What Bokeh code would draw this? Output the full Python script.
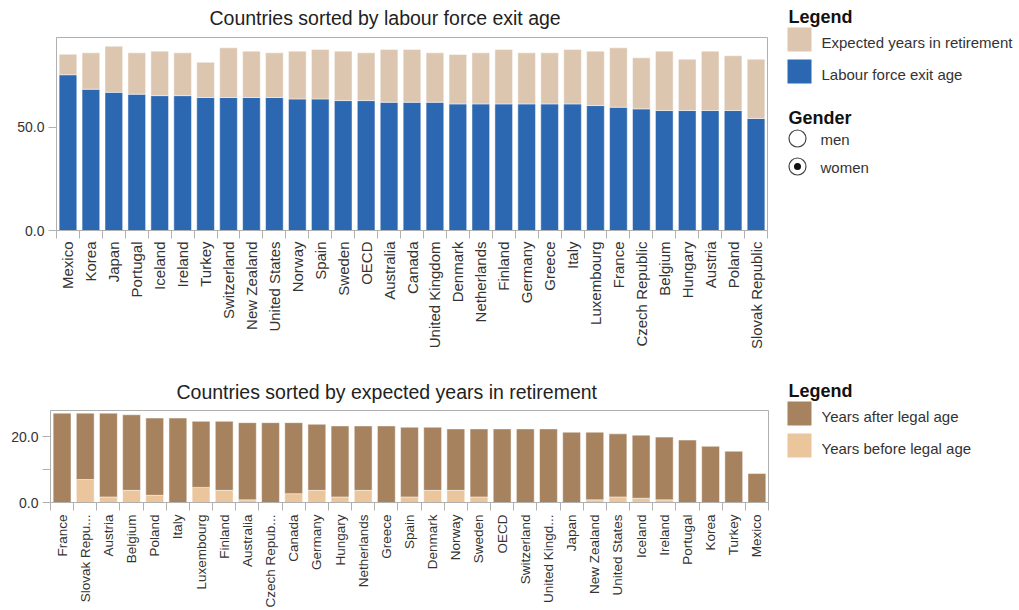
from bokeh.plotting import figure
from bokeh.layouts import column, row
from bokeh.models import FixedTicker, PrintfTickFormatter, Range1d, ColumnDataSource
from bokeh.embed import file_html
from bokeh.resources import INLINE
from bokeh.core.properties import value

FONT = "Liberation Sans"

# ---------------- data ----------------
exit_countries = ["Mexico", "Korea", "Japan", "Portugal", "Iceland", "Ireland", "Turkey",
                  "Switzerland", "New Zealand", "United States", "Norway", "Spain", "Sweden",
                  "OECD", "Australia", "Canada", "United Kingdom", "Denmark", "Netherlands",
                  "Finland", "Germany", "Greece", "Italy", "Luxembourg", "France",
                  "Czech Republic", "Belgium", "Hungary", "Austria", "Poland", "Slovak Republic"]
labour_force_exit_age = [75.3, 68.3, 66.8, 65.9, 65.2, 65.2, 64.3, 64.3, 64.3, 64.3, 63.6,
                         63.6, 62.8, 62.8, 62.0, 62.0, 62.0, 61.2, 61.2, 61.2, 61.2, 61.2,
                         61.2, 60.4, 59.6, 58.8, 58.0, 58.0, 58.0, 58.0, 54.2]
expected_years_in_retirement = [9.9, 17.6, 22.3, 20.0, 21.5, 20.7, 17.0, 24.0, 22.4, 21.6,
                                23.1, 23.9, 23.9, 23.1, 25.5, 25.5, 23.9, 23.9, 24.7, 26.3,
                                24.7, 24.7, 26.3, 26.3, 28.7, 24.7, 28.7, 24.8, 28.7, 26.5,
                                28.6]

ret_countries = ["France", "Slovak Repu...", "Austria", "Belgium", "Poland", "Italy",
                 "Luxembourg", "Finland", "Australia", "Czech Repub...", "Canada", "Germany",
                 "Hungary", "Netherlands", "Greece", "Spain", "Denmark", "Norway", "Sweden",
                 "OECD", "Switzerland", "United Kingd...", "Japan", "New Zealand",
                 "United States", "Iceland", "Ireland", "Portugal", "Korea", "Turkey", "Mexico"]
years_before_legal_age = [0.0, 7.0, 1.7, 3.7, 2.2, 0.0, 4.6, 3.7, 0.8, 0.0, 2.7, 3.7, 1.7,
                          3.7, 0.0, 1.7, 3.7, 3.7, 1.7, 0.0, 0.0, 0.0, 0.0, 0.8, 1.7, 1.3,
                          0.8, 0.0, 0.0, 0.0, 0.0]
years_after_legal_age = [27.2, 20.2, 25.5, 23.0, 23.5, 25.7, 20.1, 21.0, 23.5, 24.3, 21.6,
                         20.1, 21.6, 19.6, 23.3, 21.2, 19.2, 18.7, 20.7, 22.4, 22.4, 22.4,
                         21.4, 20.6, 19.2, 19.2, 19.1, 19.0, 17.1, 15.6, 8.8]

top_title = "Countries sorted by labour force exit age"
bottom_title = "Countries sorted by expected years in retirement"
top_legend_labels = ["Expected years in retirement", "Labour force exit age"]
bottom_legend_labels = ["Years after legal age", "Years before legal age"]
gender_labels = ["men", "women"]
top_y_ticks = [0, 50]
bottom_y_ticks = [0, 10, 20]
bottom_hidden_tick = 10

# ---------------- colours ----------------
BLUE = "#2c67b1"
TAN = "#dcc6b0"
BROWN = "#a7825e"
PEACH = "#ebc59c"
GRAY = "#b0b0b0"
TEXT = "#333333"


def bar_figure(countries, fields, values, colors, y_max, yticks, width, height,
               bl, br, bt, bb, label_size, label_standoff, title, title_offset,
               title_standoff):
    n = len(countries)
    centers = [i + 0.5 for i in range(n)]
    data = {"x": centers}
    for f, v in zip(fields, values):
        data[f] = v
    src = ColumnDataSource(data)
    p = figure(width=width, height=height, x_range=Range1d(0, n), y_range=Range1d(0, y_max),
               toolbar_location=None, output_backend="svg", title=title,
               min_border_left=bl, min_border_right=br, min_border_top=bt,
               min_border_bottom=bb)
    p.frame_align = False
    p.vbar_stack(fields, x="x", width=0.77, color=colors, source=src,
                 line_color="white", line_width=0.8, line_alpha=0.6)
    p.grid.visible = False
    p.outline_line_color = GRAY
    p.outline_line_width = 1

    p.title.align = "left"
    p.title.vertical_align = "top"
    p.title.offset = title_offset
    p.title.text_font = FONT
    p.title.text_font_size = "19.5px"
    p.title.text_font_style = "normal"
    p.title.text_color = "#222222"
    p.title.standoff = title_standoff

    xa = p.xaxis[0]
    xa.ticker = FixedTicker(ticks=centers, minor_ticks=list(range(n + 1)))
    xa.major_label_overrides = {c: name for c, name in zip(centers, countries)}
    xa.major_label_orientation = 3.14159265 / 2
    xa.major_tick_out = 0
    xa.major_tick_in = 0
    xa.minor_tick_out = 8
    xa.minor_tick_in = 0
    xa.minor_tick_line_color = GRAY
    xa.axis_line_color = GRAY
    xa.major_label_standoff = label_standoff
    xa.major_label_text_font = FONT
    xa.major_label_text_font_size = label_size
    xa.major_label_text_color = TEXT

    ya = p.yaxis[0]
    ya.ticker = FixedTicker(ticks=yticks, minor_ticks=[])
    ya.formatter = PrintfTickFormatter(format="%.1f")
    ya.major_tick_out = 8
    ya.major_tick_in = 0
    ya.minor_tick_out = 0
    ya.minor_tick_in = 0
    ya.major_tick_line_color = GRAY
    ya.axis_line_color = GRAY
    ya.major_label_standoff = 4
    ya.major_label_text_font = FONT
    ya.major_label_text_font_size = "14px"
    ya.major_label_text_color = TEXT
    return p


top = bar_figure(exit_countries, ["exit", "retire"],
                 [labour_force_exit_age, expected_years_in_retirement], [BLUE, TAN],
                 93.3, top_y_ticks, 780, 375, 56, 13, 36, 145, "15px", 3,
                 top_title, 153, 13)

bottom = bar_figure(ret_countries, ["before", "after"],
                    [years_before_legal_age, years_after_legal_age], [PEACH, BROWN],
                    28.0, bottom_y_ticks, 780, 235, 50, 12, 34, 107, "13.5px", 4,
                    bottom_title, 126, 11)
bottom.yaxis[0].major_label_overrides = {bottom_hidden_tick: ""}


def legend_figure(height, title_y, swatch_tops, colors, labels, gender=False):
    p = figure(width=239, height=height, x_range=Range1d(0, 239), y_range=Range1d(height, 0),
               x_axis_type=None, y_axis_type=None, toolbar_location=None,
               output_backend="svg", min_border=0, title=None)
    p.frame_align = False
    p.outline_line_color = None
    p.text(x=[8], y=[title_y], text=["Legend"], text_font=value(FONT),
           text_font_style="bold", text_font_size="18px", text_baseline="middle",
           text_color="#111111")
    p.quad(left=[7] * len(colors), right=[31] * len(colors), top=swatch_tops,
           bottom=[t + 24 for t in swatch_tops], fill_color=colors, line_color=None)
    p.text(x=[41] * len(labels), y=[t + 15 for t in swatch_tops], text=labels,
           text_font=value(FONT), text_font_size="15px", text_baseline="middle",
           text_color=TEXT)
    if gender:
        p.text(x=[8], y=[117], text=["Gender"], text_font=value(FONT),
               text_font_style="bold", text_font_size="18px", text_baseline="middle",
               text_color="#111111")
        p.scatter(x=[17, 17], y=[138, 166], size=17, marker="circle", fill_color="white",
                  line_color="#444444", line_width=1.2)
        p.scatter(x=[17], y=[166], size=7, marker="circle", fill_color="#111111",
                  line_color=None)
        p.text(x=[40, 40], y=[139, 167], text=gender_labels, text_font=value(FONT),
               text_font_size="15px", text_baseline="middle", text_color=TEXT)
    return p


leg_top = legend_figure(375, 16, [27, 59], [TAN, BLUE], top_legend_labels, gender=True)
leg_bottom = legend_figure(235, 15, [26, 58], [BROWN, PEACH], bottom_legend_labels)

layout = column(row(top, leg_top), row(bottom, leg_bottom))

open("out.html", "w").write(file_html(layout, INLINE))
